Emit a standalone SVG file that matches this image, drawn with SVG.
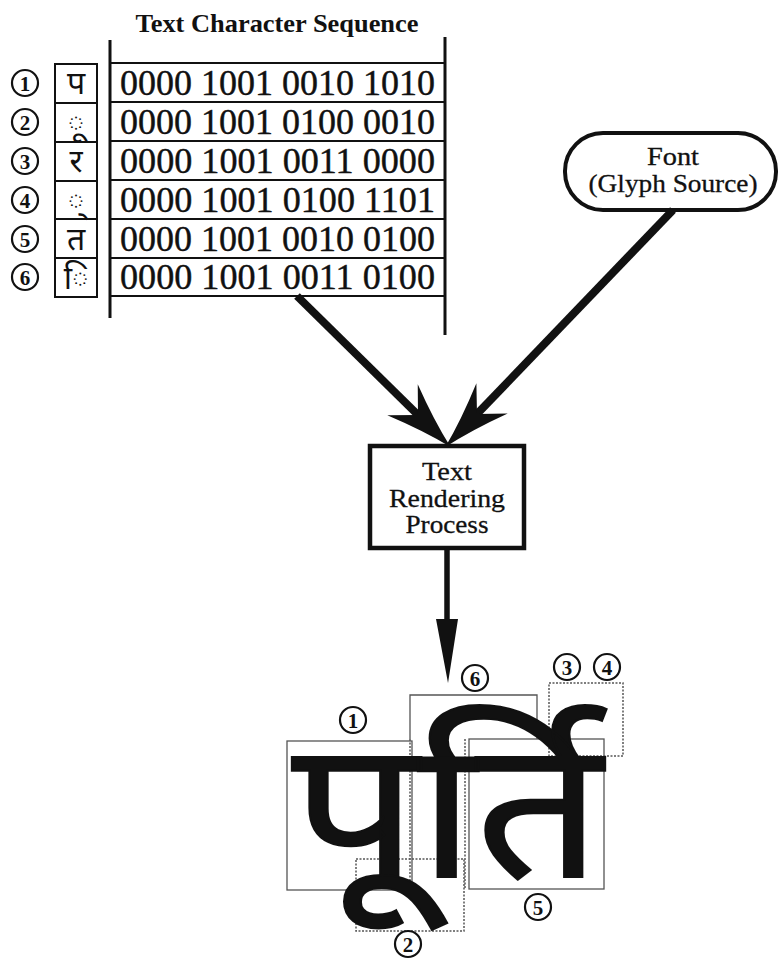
<svg xmlns="http://www.w3.org/2000/svg" width="778" height="959" viewBox="0 0 778 959">
<style>
.title{font-family:"Liberation Serif",serif;font-weight:bold;font-size:25px;fill:#111}
.bin{font-family:"Liberation Serif",serif;font-size:35px;fill:#111;stroke:#111;stroke-width:0.4}
.lbl{font-family:"Liberation Serif",serif;font-size:26px;fill:#111;text-anchor:middle;stroke:#111;stroke-width:0.3}
.num{font-family:"Liberation Serif",serif;font-weight:bold;font-size:21px;fill:#111;text-anchor:middle}
.circ{fill:none;stroke:#111;stroke-width:2.2}
.deva{font-family:"Noto Sans Devanagari","Lohit Devanagari","Noto Serif Devanagari","Mangal",sans-serif;fill:#111}
.thin{fill:none;stroke:#555;stroke-width:1.3}
.dot{fill:none;stroke:#555;stroke-width:1.5;stroke-dasharray:2 1.5}
.grid{stroke:#111;stroke-width:2;fill:none}
</style>
<defs>
<marker id="bigHead" markerUnits="userSpaceOnUse" markerWidth="80" markerHeight="60" viewBox="-25 -25 70 50" refX="0" refY="0" orient="auto" overflow="visible">
<path d="M40,0 Q14,-6 -19,-19 L0,0 L-19,19 Q14,6 40,0 Z" fill="#111"/>
</marker>
</defs>

<g id="title"><text class="title" x="277" y="32" text-anchor="middle" textLength="283" lengthAdjust="spacingAndGlyphs">Text Character Sequence</text></g>

<g id="sequence-table">
<line x1="110" y1="40" x2="110" y2="318" stroke="#111" stroke-width="3"/>
<line x1="445" y1="37" x2="445" y2="335" stroke="#111" stroke-width="3"/>
<path class="grid" d="M111,63 H444 M111,102 H444 M111,141 H444 M111,180 H444 M111,219 H444 M111,258 H444 M111,296 H444"/>
<text class="bin" x="120" y="95" textLength="315" lengthAdjust="spacingAndGlyphs">0000 1001 0010 1010</text>
<text class="bin" x="120" y="134" textLength="315" lengthAdjust="spacingAndGlyphs">0000 1001 0100 0010</text>
<text class="bin" x="120" y="173" textLength="315" lengthAdjust="spacingAndGlyphs">0000 1001 0011 0000</text>
<text class="bin" x="120" y="212" textLength="315" lengthAdjust="spacingAndGlyphs">0000 1001 0100 1101</text>
<text class="bin" x="120" y="251" textLength="315" lengthAdjust="spacingAndGlyphs">0000 1001 0010 0100</text>
<text class="bin" x="120" y="289" textLength="315" lengthAdjust="spacingAndGlyphs">0000 1001 0011 0100</text>
</g>

<g id="char-column">
<rect class="grid" x="55" y="64" width="42" height="233"/>
<path class="grid" d="M55,103 H97 M55,142 H97 M55,181 H97 M55,219 H97 M55,258 H97"/>
<text class="deva" x="76" y="94" font-size="32" text-anchor="middle">प</text>
<text class="deva" x="76" y="133" font-size="32" text-anchor="middle">◌ू</text>
<text class="deva" x="76" y="172" font-size="32" text-anchor="middle">र</text>
<text class="deva" x="76" y="211" font-size="32" text-anchor="middle">◌्</text>
<text class="deva" x="76" y="250" font-size="32" text-anchor="middle">त</text>
<text class="deva" x="76" y="289" font-size="32" text-anchor="middle">◌ि</text>
</g>

<g id="index-numbers">
<circle class="circ" cx="25" cy="83" r="13"/><text class="num" x="25" y="90.5">1</text>
<circle class="circ" cx="25" cy="122" r="13"/><text class="num" x="25" y="129.5">2</text>
<circle class="circ" cx="25" cy="161" r="13"/><text class="num" x="25" y="168.5">3</text>
<circle class="circ" cx="25" cy="200" r="13"/><text class="num" x="25" y="207.5">4</text>
<circle class="circ" cx="25" cy="239" r="13"/><text class="num" x="25" y="246.5">5</text>
<circle class="circ" cx="25" cy="277" r="13"/><text class="num" x="25" y="284.5">6</text>
</g>

<g id="font-node">
<rect x="565" y="133" width="211" height="77" rx="38" ry="38" fill="#fff" stroke="#111" stroke-width="4"/>
<text class="lbl" x="673" y="165" textLength="52" lengthAdjust="spacingAndGlyphs">Font</text>
<text class="lbl" x="673" y="192" textLength="169" lengthAdjust="spacingAndGlyphs">(Glyph Source)</text>
</g>

<g id="render-node">
<rect x="370" y="446" width="154" height="102" fill="#fff" stroke="#111" stroke-width="4.5"/>
<text class="lbl" x="447" y="480" textLength="50" lengthAdjust="spacingAndGlyphs">Text</text>
<text class="lbl" x="447" y="507" textLength="116" lengthAdjust="spacingAndGlyphs">Rendering</text>
<text class="lbl" x="447" y="533" textLength="83" lengthAdjust="spacingAndGlyphs">Process</text>
</g>

<g id="connectors">
<line x1="297" y1="296" x2="418" y2="415" stroke="#111" stroke-width="8" marker-end="url(#bigHead)"/>
<line x1="673" y1="210" x2="477" y2="414" stroke="#111" stroke-width="8" marker-end="url(#bigHead)"/>
<line x1="447" y1="548" x2="447" y2="625" stroke="#111" stroke-width="5.5"/>
<path d="M436,619 L458,619 L448,683 Z" fill="#111"/>
</g>

<g id="rendered-glyphs">
<rect class="thin" x="287" y="741" width="125" height="149"/>
<path class="thin" d="M410,739 V695 H537 V739"/>
<line class="dot" x1="410" y1="739" x2="410" y2="888"/>
<line class="dot" x1="465" y1="739" x2="465" y2="888"/>
<rect class="thin" x="469" y="739" width="135" height="150"/>
<rect class="dot" x="356" y="859" width="108" height="72"/>
<rect class="dot" x="549" y="683" width="74" height="73"/>
<text class="deva" x="292" y="877" font-size="192" textLength="310" lengthAdjust="spacingAndGlyphs" stroke="#111" stroke-width="2">पूर्ति</text>
<circle class="circ" cx="353" cy="720" r="13"/><text class="num" x="353" y="727.5">1</text>
<circle class="circ" cx="475" cy="678" r="13"/><text class="num" x="475" y="685.5">6</text>
<circle class="circ" cx="567" cy="667" r="13"/><text class="num" x="567" y="674.5">3</text>
<circle class="circ" cx="607" cy="667" r="13"/><text class="num" x="607" y="674.5">4</text>
<circle class="circ" cx="538" cy="907" r="13"/><text class="num" x="538" y="914.5">5</text>
<circle class="circ" cx="408" cy="944" r="13"/><text class="num" x="408" y="951.5">2</text>
</g>
</svg>
